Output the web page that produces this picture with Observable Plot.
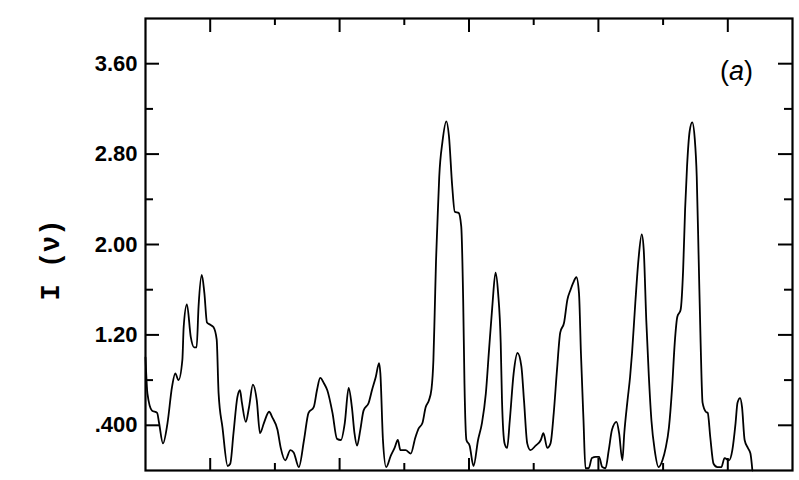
<!DOCTYPE html>
<html>
<head>
<meta charset="utf-8">
<script src="https://cdn.jsdelivr.net/npm/d3@7"></script>
<script src="https://cdn.jsdelivr.net/npm/@observablehq/plot@0.6"></script>
<style>
  html, body { margin: 0; padding: 0; background: white; }
</style>
</head>
<body>
<div id="chart"></div>
<script>
// Spectrum trace I(nu): frequency positions (arbitrary units 0..10) and intensities
const xs = [
  0.00,0.03,0.10,0.18,0.21,0.27,0.34,0.41,0.46,0.51,0.57,0.59,0.64,0.70,0.75,0.79,0.82,0.87,0.91,0.95,
  1.00,1.05,1.10,1.13,1.19,1.27,1.31,1.36,1.42,1.46,1.49,1.55,1.60,1.66,1.72,1.77,1.83,1.91,1.96,2.04,
  2.09,2.16,2.24,2.29,2.37,2.45,2.52,
  2.60,2.65,2.70,2.76,2.81,2.89,2.96,3.02,3.08,3.14,3.19,3.23,3.27,3.32,3.37,3.45,3.50,3.56,3.61,3.63,
  3.67,3.72,3.79,3.85,3.90,3.94,4.02,4.10,4.17,4.22,4.28,4.33,4.38,4.42,4.45,4.47,4.49,
  4.51,4.54,4.59,4.65,4.69,4.74,4.78,4.84,4.88,4.91,4.93,4.96,5.01,5.07,5.14,5.20,5.26,5.31,5.36,5.41,
  5.45,5.49,5.51,5.55,5.59,5.63,5.69,5.75,5.81,5.85,5.90,5.95,6.03,6.11,
  6.15,6.21,6.26,6.31,6.36,6.41,6.47,6.52,6.57,6.61,6.66,6.70,6.73,6.77,6.80,6.85,6.90,6.96,7.01,7.06,
  7.11,7.16,7.21,7.28,7.32,7.37,7.40,7.45,7.49,7.52,7.57,7.62,7.67,7.70,7.74,7.78,7.82,7.87,7.93,
  7.99,8.04,8.09,8.14,8.18,8.22,8.27,8.31,8.34,8.37,8.41,8.45,8.49,8.52,8.55,8.58,8.61,8.66,8.69,8.73,
  8.78,8.84,8.90,8.95,9.02,9.07,9.12,9.15,9.19,9.22,9.26,9.31,9.35,9.38
];
const ys = [
  1.00,0.68,0.53,0.51,0.42,0.24,0.42,0.74,0.86,0.80,0.98,1.27,1.47,1.18,1.09,1.09,1.45,1.73,1.57,1.31,
  1.29,1.27,1.16,0.68,0.38,0.04,0.06,0.33,0.65,0.71,0.60,0.43,0.56,0.76,0.62,0.33,0.42,0.52,0.47,0.36,
  0.20,0.09,0.18,0.16,0.03,0.27,0.51,
  0.56,0.71,0.82,0.77,0.71,0.51,0.28,0.27,0.42,0.73,0.56,0.33,0.22,0.36,0.53,0.60,0.71,0.83,0.95,0.86,
  0.27,0.03,0.13,0.20,0.27,0.18,0.18,0.15,0.29,0.37,0.42,0.56,0.62,0.72,0.98,1.40,1.85,
  2.16,2.60,2.91,3.09,2.96,2.52,2.29,2.28,2.16,1.51,0.77,0.27,0.22,0.04,0.27,0.42,0.68,1.07,1.45,1.75,
  1.57,1.13,0.62,0.24,0.20,0.44,0.86,1.04,0.92,0.62,0.24,0.18,0.22,0.27,
  0.33,0.20,0.24,0.51,0.89,1.22,1.31,1.51,1.60,1.66,1.71,1.57,1.04,0.44,0.02,0.02,0.11,0.12,0.12,0.03,
  0.02,0.18,0.36,0.43,0.33,0.09,0.33,0.62,0.83,1.04,1.48,1.87,2.09,1.96,1.33,0.83,0.44,0.18,0.03,
  0.09,0.20,0.38,0.74,1.13,1.36,1.42,1.78,2.31,2.69,3.00,3.08,2.93,2.60,1.87,1.13,0.60,0.52,0.51,0.29,
  0.06,0.03,0.03,0.11,0.09,0.18,0.42,0.60,0.64,0.56,0.27,0.20,0.15,0.00
];

// Axis ticks and labels
const yMajor = [0.4, 1.2, 2.0, 2.8, 3.6];
const yLabels = [".400", "1.20", "2.00", "2.80", "3.60"];
const yMinor = [0.8, 1.6, 2.4, 3.2];
const xMajor = [1, 3, 5, 7, 9];
const xMinor = [2, 4, 6, 8];
const yTitle = "I (ν)";
const panelTag = ["(", "a", ")"];

const data = xs.map((x, i) => ({x, y: ys[i]}));

const W = 799, H = 480;
const mL = 145, mR = 7, mT = 18, mB = 10;
const FW = W - mL - mR, FH = H - mT - mB;
const maj = 14, mnr = 8;

const svg = Plot.plot({
  width: W, height: H,
  marginLeft: mL, marginRight: mR, marginTop: mT, marginBottom: mB,
  x: {domain: [0, 10], axis: null},
  y: {domain: [0, 4], axis: null},
  style: {background: "white", fontFamily: "'Liberation Sans', Arial, sans-serif", color: "black"},
  marks: [
    // inward ticks: left & right
    Plot.tickY(yMajor, {y: d => d, insetRight: FW - maj, stroke: "black", strokeWidth: 2}),
    Plot.tickY(yMinor, {y: d => d, insetRight: FW - mnr, stroke: "black", strokeWidth: 2}),
    Plot.tickY(yMajor, {y: d => d, insetLeft: FW - maj, stroke: "black", strokeWidth: 2}),
    Plot.tickY(yMinor, {y: d => d, insetLeft: FW - mnr, stroke: "black", strokeWidth: 2}),
    // inward ticks: top & bottom
    Plot.tickX(xMajor, {x: d => d, insetTop: FH - 12, stroke: "black", strokeWidth: 2}),
    Plot.tickX(xMinor, {x: d => d, insetTop: FH - 7, stroke: "black", strokeWidth: 2}),
    Plot.tickX(xMajor, {x: d => d, insetBottom: FH - maj, stroke: "black", strokeWidth: 2}),
    Plot.tickX(xMinor, {x: d => d, insetBottom: FH - 7, stroke: "black", strokeWidth: 2}),
    Plot.axisY(yMajor, {
      anchor: "left", tickSize: 0, tickPadding: 8, label: null,
      tickFormat: d => yLabels[yMajor.indexOf(d)],
      fontSize: 22, fontWeight: "bold"
    }),
    Plot.line(data, {x: "x", y: "y", stroke: "black", strokeWidth: 1.8, curve: "monotone-x"}),
    Plot.frame({stroke: "black", strokeWidth: 2.2}),
    Plot.text([yTitle], {
      frameAnchor: "left", rotate: -90, dx: -95, dy: 56,
      fontSize: 27, fontWeight: "bold", fontFamily: "'Liberation Mono', 'DejaVu Sans Mono', monospace",
      fill: "black"
    })
  ]
});

// panel tag "(a)" with italic letter
const tag = d3.select(svg).append("text")
  .attr("x", 753).attr("y", 80)
  .attr("text-anchor", "end")
  .attr("font-family", "'Liberation Sans', Arial, sans-serif")
  .attr("font-size", 27)
  .attr("fill", "black");
tag.append("tspan").text(panelTag[0]);
tag.append("tspan").attr("font-style", "italic").text(panelTag[1]);
tag.append("tspan").text(panelTag[2]);

document.getElementById("chart").appendChild(svg);
</script>
</body>
</html>
